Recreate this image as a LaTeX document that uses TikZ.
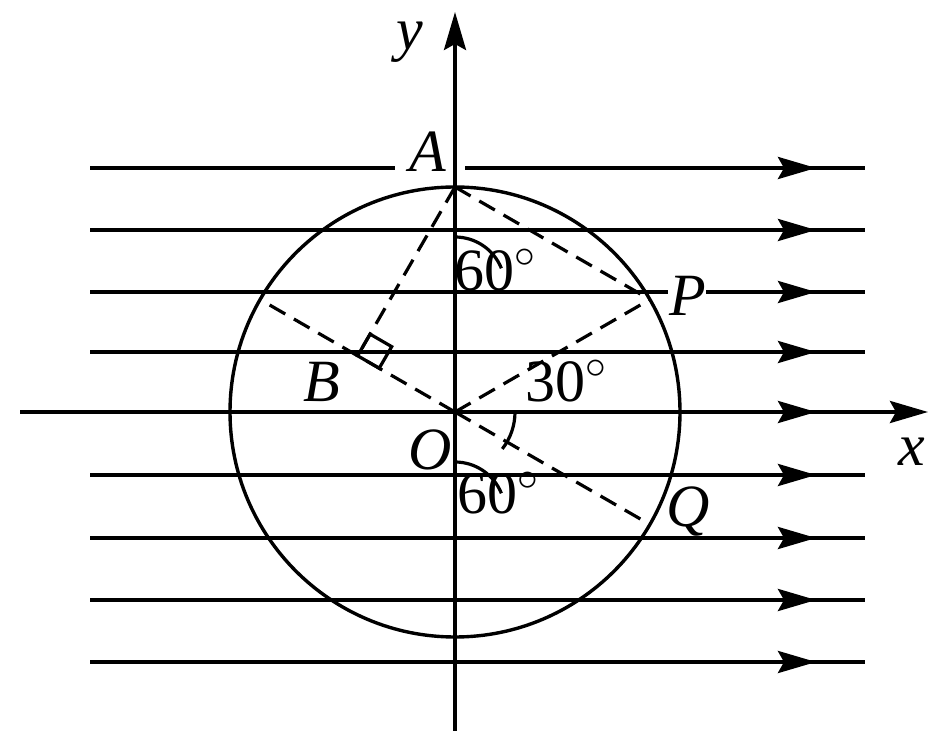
\documentclass[tikz,border=0pt]{standalone}
\usepackage{fontspec}
\setmainfont{Liberation Serif}
\usetikzlibrary{arrows.meta,calc}
\newcommand{\mydeg}{\raisebox{0.2ex}{$^{\circ}$}}
\begin{document}
\begin{tikzpicture}[x=0.5pt,y=-0.5pt,
  fieldline/.style={line width=2pt},
  arrowseg/.style={line width=2pt,-{Stealth[length=19pt,width=11pt,inset=3pt]}},
  axisline/.style={line width=1.8pt},
  dashline/.style={line width=1.6pt,dash pattern=on 9pt off 5pt},
  lbl/.style={font=\fontsize{30}{36}\selectfont\itshape,inner sep=1pt},
  deg/.style={font=\fontsize{30}{36}\selectfont,inner sep=1pt,anchor=base},
  anglemark/.style={line width=1.6pt}]
\useasboundingbox (0,0) rectangle (931,731);
% key points
\coordinate (O) at (455,412);
\coordinate (A) at (455,187);
\coordinate (P) at ($(O)+(194.9,-112.5)$);
\coordinate (Q) at ($(O)+(194.9,112.5)$);
\coordinate (C) at ($(O)+(-194.9,-112.5)$);
\coordinate (B) at ($(O)+(-97.4,-56.25)$);
% field lines
\foreach \yy in {230,352,475,538,600,662}{
  \draw[arrowseg] (90,\yy) -- (816,\yy);
  \draw[fieldline] (800,\yy) -- (865,\yy);
}
% top line with gap at A
\draw[fieldline] (90,168) -- (395,168);
\draw[arrowseg] (465,168) -- (816,168);
\draw[fieldline] (800,168) -- (865,168);
% line through P with gap at label
\draw[fieldline] (90,292) -- (668,292);
\draw[arrowseg] (706,292) -- (816,292);
\draw[fieldline] (800,292) -- (865,292);
% x axis
\draw[arrowseg] (20,412) -- (816,412);
\draw[arrowseg] (800,412) -- (928,412);
% y axis
\draw[axisline,-{Stealth[length=19pt,width=11pt,inset=3pt]}] (455,731) -- (455,12);
% circle
\draw[line width=1.7pt] (O) circle (225);
% dashed lines
\draw[dashline] (A) -- (P);
\draw[dashline] (A) -- (B);
\draw[dashline] (O) -- (P);
\draw[dashline] (O) -- (Q);
\draw[dashline] (O) -- (C);
% right angle at B
\draw[line width=1.6pt] (B) -- ($(B)+(21.6,12.5)$) -- ($(B)+(21.6,12.5)+(12.5,-21.6)$) -- ($(B)+(12.5,-21.6)$) -- cycle;
% angle marks
\draw[anglemark] ($(A)+(0,50)$) arc[start angle=-90,end angle=-22,radius=50];
\draw[anglemark] ($(O)+(60,0)$) arc[start angle=0,end angle=38,radius=60];
\draw[anglemark] ($(O)+(0,50)$) arc[start angle=-90,end angle=-22,radius=50];
% labels
\node[lbl] (lA) at (428,152) {A};
\node[lbl] (lB) at (322,382) {B};
\node[lbl] (lO) at (430,450) {O};
\node[lbl] (lP) at (688,296) {P};
\node[lbl] (lQ) at (688,512) {Q};
\node[lbl] (ly) at (410,42) {y};
\node[lbl] (lx) at (912,452) {x};
\node[deg] (a1) at (495,291) {60\mydeg};
\node[deg] (a2) at (566,402) {30\mydeg};
\node[deg] (a3) at (498,514) {60\mydeg};
\end{tikzpicture}
\end{document}
